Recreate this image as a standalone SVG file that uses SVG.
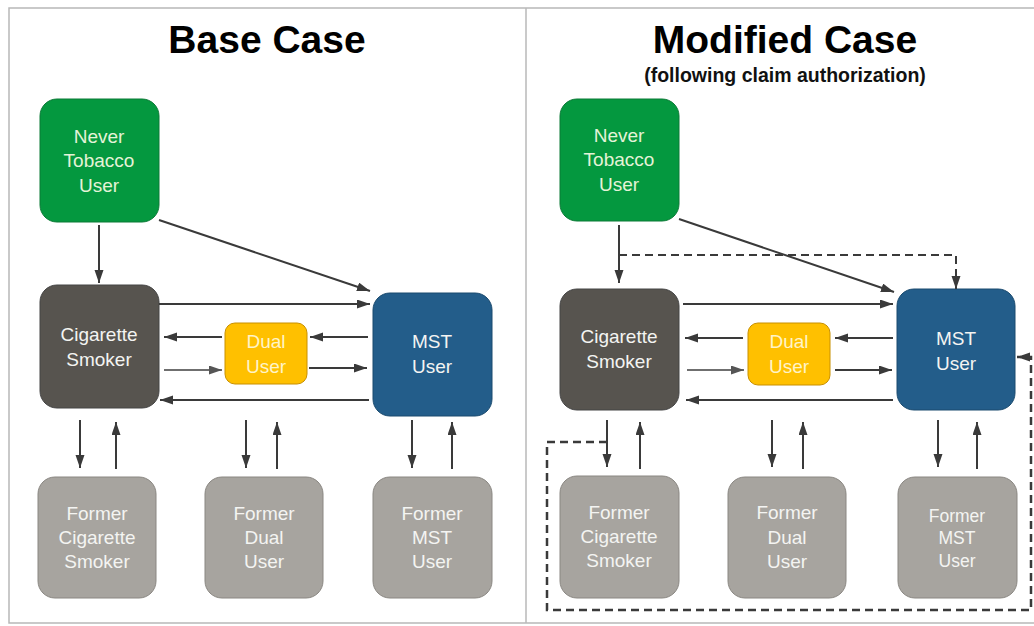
<svg xmlns="http://www.w3.org/2000/svg" width="1034" height="626" viewBox="0 0 1034 626">
<defs>
<marker id="ah" markerUnits="userSpaceOnUse" markerWidth="14" markerHeight="10" refX="13" refY="4.5" orient="auto"><path d="M0,0 L13,4.5 L0,9 z" fill="#3a3a3a"/></marker>
<marker id="ahl" markerUnits="userSpaceOnUse" markerWidth="14" markerHeight="10" refX="13" refY="4.5" orient="auto"><path d="M0,0 L13,4.5 L0,9 z" fill="#555"/></marker>
</defs>
<style>
.title{font-family:"Liberation Sans",Arial,sans-serif;font-weight:bold;font-size:39px;fill:#000;text-anchor:middle}
.sub{font-family:"Liberation Sans",Arial,sans-serif;font-weight:bold;font-size:19.5px;fill:#111;text-anchor:middle}
.t{font-family:"Liberation Sans",Arial,sans-serif;font-size:19px;text-anchor:middle;fill:#f4f4f2}
.never rect{fill:#04983f;stroke:#0b7a36;stroke-width:1}
.never text{fill:#e4f3d8}
.cig rect{fill:#57544f;stroke:#444;stroke-width:1}
.dual rect{fill:#ffc000;stroke:#c89000;stroke-width:1}
.dual text{fill:#fff4c8}
.mst rect{fill:#235d8a;stroke:#1a4a6e;stroke-width:1}
.former rect{fill:#a7a49f;stroke:#8a8782;stroke-width:1}
.c{fill:none;stroke:#3a3a3a;stroke-width:2;marker-end:url(#ah)}
.cl{fill:none;stroke:#6f6f6f;stroke-width:2;marker-end:url(#ahl)}
.d{fill:none;stroke:#3a3a3a;stroke-width:2;stroke-dasharray:8 5}
.dm{marker-end:url(#ah)}
.frame{fill:none;stroke:#b8b8b8;stroke-width:1.5}
</style>
<rect width="1034" height="626" fill="#fff"/>
<g id="frame">
<path class="frame" d="M1034,8 H9 V623 H1034"/>
<line class="frame" x1="526" y1="8" x2="526" y2="623"/>
</g>
<g id="titles">
<text class="title" x="267" y="53">Base Case</text>
<text class="title" x="785" y="53">Modified Case</text>
<text class="sub" x="785" y="82">(following claim authorization)</text>
</g>

<!-- Base case nodes -->
<g id="base-never" class="never"><rect x="40" y="99" width="119" height="123" rx="17"/>
<text class="t" x="99" y="143">Never</text><text class="t" x="99" y="167">Tobacco</text><text class="t" x="99" y="192">User</text></g>
<g id="base-cig" class="cig"><rect x="40" y="285" width="119" height="123" rx="17"/>
<text class="t" x="99" y="341">Cigarette</text><text class="t" x="99" y="366">Smoker</text></g>
<g id="base-dual" class="dual"><rect x="225" y="323" width="82" height="61" rx="10"/>
<text class="t" x="266" y="348">Dual</text><text class="t" x="266" y="373">User</text></g>
<g id="base-mst" class="mst"><rect x="373" y="293" width="119" height="123" rx="17"/>
<text class="t" x="432" y="348">MST</text><text class="t" x="432" y="373">User</text></g>
<g id="base-former-cig" class="former"><rect x="38" y="477" width="118" height="121" rx="17"/>
<text class="t" x="97" y="520">Former</text><text class="t" x="97" y="544">Cigarette</text><text class="t" x="97" y="568">Smoker</text></g>
<g id="base-former-dual" class="former"><rect x="205" y="477" width="118" height="121" rx="17"/>
<text class="t" x="264" y="520">Former</text><text class="t" x="264" y="544">Dual</text><text class="t" x="264" y="568">User</text></g>
<g id="base-former-mst" class="former"><rect x="373" y="477" width="119" height="121" rx="17"/>
<text class="t" x="432" y="520">Former</text><text class="t" x="432" y="544">MST</text><text class="t" x="432" y="568">User</text></g>

<!-- Modified case nodes -->
<g id="mod-never" class="never"><rect x="560" y="99" width="119" height="122" rx="17"/>
<text class="t" x="619" y="142">Never</text><text class="t" x="619" y="166">Tobacco</text><text class="t" x="619" y="191">User</text></g>
<g id="mod-cig" class="cig"><rect x="560" y="289" width="119" height="121" rx="17"/>
<text class="t" x="619" y="343">Cigarette</text><text class="t" x="619" y="368">Smoker</text></g>
<g id="mod-dual" class="dual"><rect x="748" y="323" width="82" height="62" rx="10"/>
<text class="t" x="789" y="348">Dual</text><text class="t" x="789" y="373">User</text></g>
<g id="mod-mst" class="mst"><rect x="897" y="289" width="118" height="121" rx="17"/>
<text class="t" x="956" y="345">MST</text><text class="t" x="956" y="370">User</text></g>
<g id="mod-former-cig" class="former"><rect x="560" y="476" width="119" height="122" rx="17"/>
<text class="t" x="619" y="519">Former</text><text class="t" x="619" y="543">Cigarette</text><text class="t" x="619" y="567">Smoker</text></g>
<g id="mod-former-dual" class="former"><rect x="728" y="477" width="118" height="121" rx="17"/>
<text class="t" x="787" y="519">Former</text><text class="t" x="787" y="544">Dual</text><text class="t" x="787" y="568">User</text></g>
<g id="mod-former-mst" class="former"><rect x="898" y="477" width="119" height="121" rx="17"/>
<text class="t" x="957" y="522" style="font-size:17.5px">Former</text><text class="t" x="957" y="544" style="font-size:17.5px">MST</text><text class="t" x="957" y="567" style="font-size:17.5px">User</text></g>

<g id="connectors">
<!-- base -->
<line class="c" x1="99" y1="225" x2="99" y2="283"/>
<line class="c" x1="159" y1="220" x2="370" y2="291"/>
<line class="c" x1="159" y1="304" x2="370" y2="304"/>
<line class="c" x1="222" y1="337" x2="164" y2="337"/>
<line class="c" x1="368" y1="337" x2="310" y2="337"/>
<line class="cl" x1="164" y1="370" x2="222" y2="370"/>
<line class="c" x1="309" y1="368" x2="367" y2="368"/>
<line class="c" x1="369" y1="400" x2="160" y2="400"/>
<line class="c" x1="80" y1="420" x2="80" y2="468"/>
<line class="c" x1="116" y1="469" x2="116" y2="422"/>
<line class="c" x1="246" y1="420" x2="246" y2="468"/>
<line class="c" x1="277" y1="469" x2="277" y2="422"/>
<line class="c" x1="412" y1="420" x2="412" y2="468"/>
<line class="c" x1="452" y1="469" x2="452" y2="422"/>
<!-- modified -->
<line class="c" x1="619" y1="225" x2="619" y2="283"/>
<line class="c" x1="679" y1="219" x2="894" y2="292"/>
<path class="d dm" d="M619,255 H956 V289"/>
<line class="c" x1="683" y1="304" x2="893" y2="304"/>
<line class="c" x1="743" y1="338" x2="685" y2="338"/>
<line class="c" x1="893" y1="338" x2="835" y2="338"/>
<line class="cl" x1="687" y1="370" x2="744" y2="370"/>
<line class="c" x1="835" y1="370" x2="892" y2="370"/>
<line class="c" x1="893" y1="400" x2="686" y2="400"/>
<line class="c" x1="607" y1="420" x2="607" y2="467"/>
<line class="c" x1="640" y1="469" x2="640" y2="422"/>
<line class="c" x1="772" y1="420" x2="772" y2="467"/>
<line class="c" x1="803" y1="469" x2="803" y2="422"/>
<line class="c" x1="938" y1="420" x2="938" y2="467"/>
<line class="c" x1="977" y1="469" x2="977" y2="422"/>
<path class="d dm" style="stroke-width:2.5" d="M607,442 H547 V610 H1031 V357 H1017"/>
</g>
</svg>
